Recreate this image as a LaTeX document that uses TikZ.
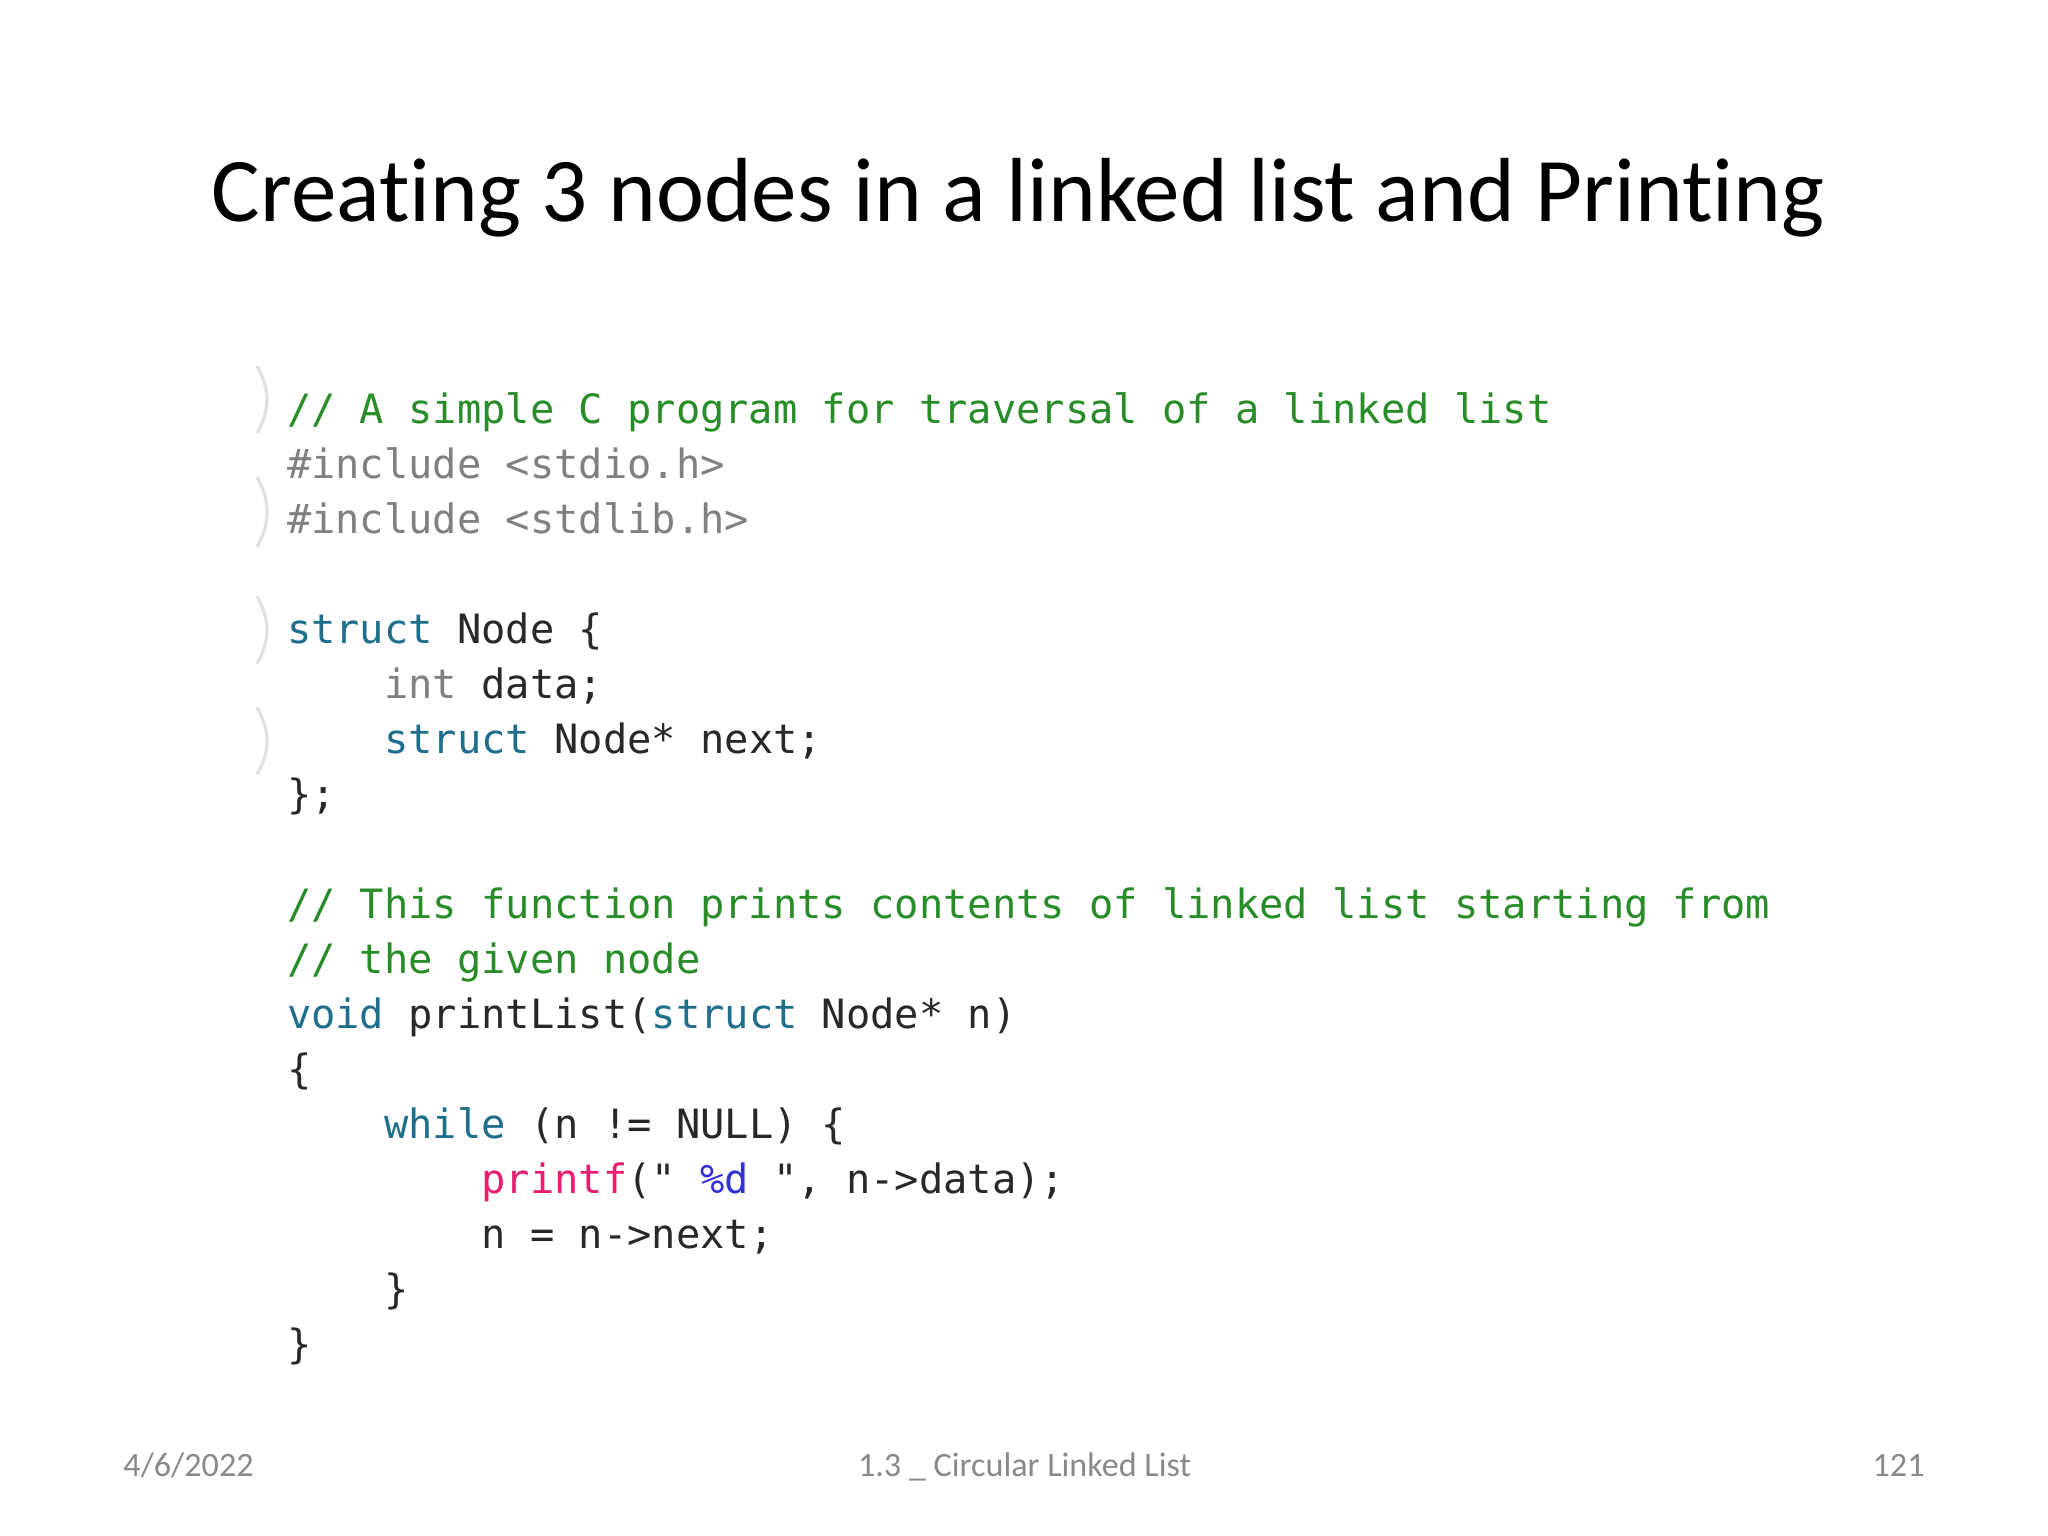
\documentclass[tikz,border=0pt]{standalone}
\usepackage{fontspec}
\setmainfont{Carlito}[Ligatures=NoCommon]
\newfontfamily\codefont{DejaVu Sans Mono}
\definecolor{cmt}{RGB}{40,140,40}
\definecolor{pre}{RGB}{128,128,128}
\definecolor{kw}{RGB}{30,110,140}
\definecolor{intc}{RGB}{128,128,128}
\definecolor{fnc}{RGB}{230,30,110}
\definecolor{fmt}{RGB}{50,50,210}
\definecolor{txt}{RGB}{40,40,40}
\definecolor{foot}{RGB}{137,137,137}
\newcommand{\ind}[1]{\hspace*{#1\fontcharwd\font`0}}
\begin{document}
\begin{tikzpicture}[x=1pt,y=-1pt,
  titletext/.style={font=\fontsize{32}{38}\selectfont, text=black, inner sep=0pt, outer sep=0pt, anchor=base},
  codeline/.style={font=\codefont\fontsize{14.2}{17}\selectfont\frenchspacing, text=txt, inner sep=0pt, outer sep=0pt, anchor=base west},
  foottext/.style={font=\fontsize{12}{14}\selectfont, text=foot, inner sep=0pt, outer sep=0pt},
  marker/.style={draw=black!12, line width=1.1pt, line cap=round}
]
\useasboundingbox (0,0) rectangle (720,540);
\fill[white] (0,0) rectangle (720,540);

% title
\node[titletext] (title) at (358,78.0) {Creating 3 nodes in a linked list and Printing};

% faint fold markers of the screenshot
\draw[marker] (90.5,129) .. controls (95,137) and (95,144) .. (90.5,152);
\draw[marker] (90.5,168) .. controls (95,176) and (95,184) .. (90.5,192);
\draw[marker] (90.5,210) .. controls (95,218) and (95,225) .. (90.5,233);
\draw[marker] (90.5,249) .. controls (95,257) and (95,264) .. (90.5,272);

% code
\node[codeline, text=cmt] (l1) at (100.9,149.0) {// A simple C program for traversal of a linked list};
\node[codeline, text=pre] (l2) at (100.9,168.33) {\#include <stdio.h>};
\node[codeline, text=pre] (l3) at (100.9,187.66) {\#include <stdlib.h>};
\node[codeline] (l5) at (100.9,226.32) {{\color{kw}struct} Node \{};
\node[codeline] (l6) at (100.9,245.65) {\ind{4}{\color{intc}int} data;};
\node[codeline] (l7) at (100.9,264.98) {\ind{4}{\color{kw}struct} Node* next;};
\node[codeline] (l8) at (100.9,284.31) {\};};
\node[codeline, text=cmt] (l10) at (100.9,322.97) {// This function prints contents of linked list starting from};
\node[codeline, text=cmt] (l11) at (100.9,342.30) {// the given node};
\node[codeline] (l12) at (100.9,361.63) {{\color{kw}void} printList({\color{kw}struct} Node* n)};
\node[codeline] (l13) at (100.9,380.96) {\{};
\node[codeline] (l14) at (100.9,400.29) {\ind{4}{\color{kw}while} (n != NULL) \{};
\node[codeline] (l15) at (100.9,419.62) {\ind{8}{\color{fnc}printf}(" {\color{fmt}\%d} ", n->data);};
\node[codeline] (l16) at (100.9,438.95) {\ind{8}n = n->next;};
\node[codeline] (l17) at (100.9,458.28) {\ind{4}\}};
\node[codeline] (l18) at (100.9,477.61) {\}};

% footer
\node[foottext, anchor=base west] (fdate) at (43.4,519.2) {4/6/2022};
\node[foottext, anchor=base] (ftitle) at (360.2,519.2) {1.3 \_ Circular Linked List};
\node[foottext, anchor=base east] (fnum) at (676.6,519.2) {121};
\end{tikzpicture}
\end{document}
